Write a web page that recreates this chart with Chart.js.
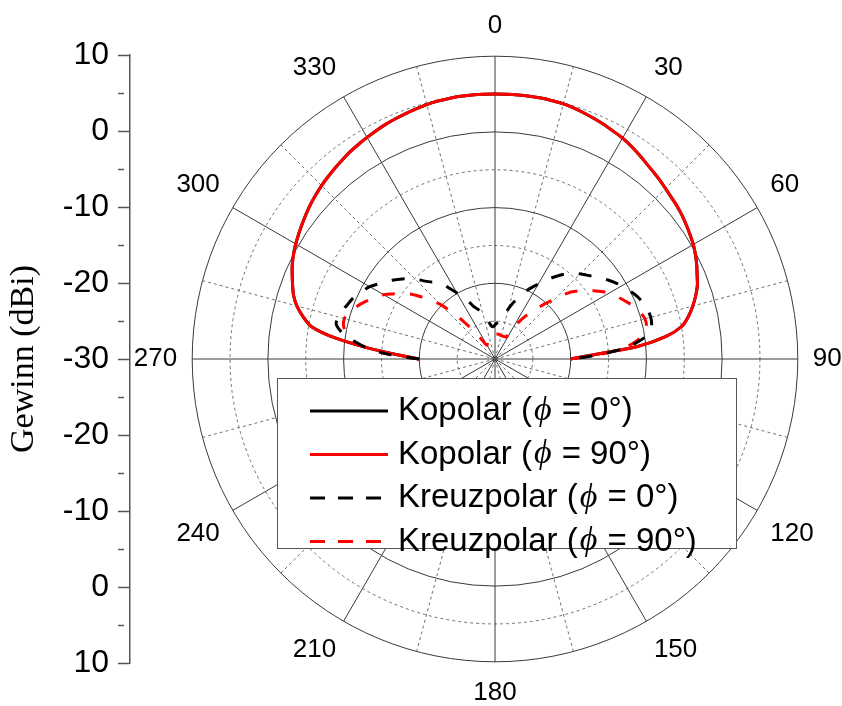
<!DOCTYPE html>
<html>
<head>
<meta charset="utf-8">
<script src="https://cdn.jsdelivr.net/npm/chart.js@4.4.0/dist/chart.umd.min.js"></script>
<style>
  html, body { margin: 0; padding: 0; background: #fff; overflow: hidden; }
  #stage { position: relative; width: 842px; height: 706px; overflow: hidden; background: #fff; }
  #axis { position: absolute; left: 0; top: 0; }
  #polar { position: absolute; left: 89px; top: 11px; }
</style>
</head>
<body>
<div id="stage">
  <canvas id="axis" width="136" height="706"></canvas>
  <canvas id="polar" width="812" height="698"></canvas>
</div>
<script>
// Elevation angle (degrees, 0 = boresight, clockwise positive), one row per 10 degrees
const angles = [
  -90, -87.5, -85, -82.5,
  -80, -77.5, -75, -72.5,
  -70, -67.5, -65, -62.5,
  -60, -57.5, -55, -52.5,
  -50, -47.5, -45, -42.5,
  -40, -37.5, -35, -32.5,
  -30, -27.5, -25, -22.5,
  -20, -17.5, -15, -12.5,
  -10, -7.5, -5, -2.5,
  0, 2.5, 5, 7.5,
  10, 12.5, 15, 17.5,
  20, 22.5, 25, 27.5,
  30, 32.5, 35, 37.5,
  40, 42.5, 45, 47.5,
  50, 52.5, 55, 57.5,
  60, 62.5, 65, 67.5,
  70, 72.5, 75, 77.5,
  80, 82.5, 85, 87.5,
  90
];

// Gain in dBi
const copolPhi0 = [
  -20, -17.1, -13.1, -8.7,
  -5.4, -4.0, -2.9, -2.1,
  -1.55, -1.0, -0.45, 0.0,
  0.4, 0.75, 1.1, 1.45,
  1.8, 2.1, 2.4, 2.65,
  2.9, 3.15, 3.4, 3.6,
  3.8, 4.0, 4.2, 4.35,
  4.5, 4.65, 4.8, 4.9,
  4.95, 5.0, 5.0, 5.0,
  5.0, 5.0, 5.0, 5.0,
  5.0, 4.95, 4.9, 4.75,
  4.55, 4.35, 4.15, 3.9,
  3.7, 3.4, 3.05, 2.7,
  2.4, 2.15, 1.85, 1.6,
  1.4, 1.15, 0.85, 0.55,
  0.25, -0.15, -0.6, -1.1,
  -1.55, -2.2, -2.95, -3.8,
  -4.9, -7.2, -11.1, -16.9,
  -20
];
const copolPhi90 = [
  -20, -17.1, -13.1, -8.7,
  -5.4, -4.0, -2.9, -2.1,
  -1.55, -1.0, -0.45, 0.0,
  0.4, 0.75, 1.1, 1.45,
  1.8, 2.1, 2.4, 2.65,
  2.9, 3.15, 3.4, 3.6,
  3.8, 4.0, 4.2, 4.35,
  4.5, 4.65, 4.8, 4.9,
  4.95, 5.0, 5.0, 5.0,
  5.0, 5.0, 5.0, 5.0,
  5.0, 4.95, 4.9, 4.75,
  4.55, 4.35, 4.15, 3.9,
  3.7, 3.4, 3.05, 2.7,
  2.4, 2.15, 1.85, 1.6,
  1.4, 1.15, 0.85, 0.55,
  0.25, -0.15, -0.6, -1.1,
  -1.55, -2.2, -2.95, -3.8,
  -4.9, -7.2, -11.1, -16.9,
  -20
];
const xpolPhi0 = [
  -20, -16.0, -13.0, -11.0,
  -9.4, -8.5, -8.6, -8.8,
  -9.2, -9.5, -9.9, -10.4,
  -10.9, -11.6, -12.3, -12.9,
  -13.6, -14.3, -15.0, -16.0,
  -16.7, -17.2, -17.9, -19.0,
  -19.9, -20.7, -21.5, -22.4,
  -22.9, -23.3, -23.8, -24.4,
  -24.9, -25.4, -25.7, -25.7,
  -25.5, -25.3, -25.1, -24.9,
  -24.6, -23.9, -23.1, -22.3,
  -21.6, -20.8, -20.0, -19.3,
  -18.6, -17.8, -16.9, -16.1,
  -15.3, -14.6, -14.1, -13.6,
  -13.0, -12.4, -11.8, -11.2,
  -10.7, -10.2, -9.7, -9.3,
  -9.0, -8.8, -8.7, -8.8,
  -9.1, -10.5, -12.6, -16.0,
  -20
];
const xpolPhi90 = [
  -20, -16.0, -13.0, -11.0,
  -10.0, -9.5, -9.4, -9.7,
  -10.3, -10.9, -11.6, -12.3,
  -13.0, -14.0, -15.0, -15.9,
  -17.2, -18.6, -19.8, -21.8,
  -23.5, -25.2, -26.6, -27.7,
  -27.9, -27.8, -27.6, -27.5,
  -27.4, -27.2, -27.0, -26.9,
  -26.7, -26.7, -26.7, -26.7,
  -26.7, -26.7, -26.7, -26.7,
  -26.7, -26.8, -26.8, -26.8,
  -26.8, -26.8, -26.8, -26.6,
  -25.4, -24.3, -23.2, -22.3,
  -21.2, -20.0, -18.8, -17.2,
  -16.1, -15.4, -14.3, -13.4,
  -12.6, -12.0, -11.4, -10.8,
  -10.2, -9.8, -9.5, -9.5,
  -9.9, -11.0, -12.8, -16.0,
  -20
];

// Radial range and the mirrored gain ruler on the left
const gainMin = -30;
const gainMax = 10;
const gainTicks = [10, 0, -10, -20, -30, -20, -10, 0, 10];

// Angular categories around the full circle (2.5 degree steps), labelled every 30 degrees
const polarLabels = Array.from({ length: 144 }, (_, i) => i * 2.5);

function toCircle(values) {
  const byAngle = new Map();
  angles.forEach((a, i) => byAngle.set((a + 360) % 360, values[i]));
  return polarLabels.map(a => (byAngle.has(a) ? byAngle.get(a) : null));
}

const SANS = '"Liberation Sans", Arial, sans-serif';
const SERIF = '"Liberation Serif", "Times New Roman", serif';

// Legend drawn as a framed box on top of the plot
const legendBox = {
  id: 'legendBox',
  afterDraw(chart, args, o) {
    const ctx = chart.ctx;
    ctx.save();
    ctx.fillStyle = '#fff';
    ctx.fillRect(o.x, o.y, o.w, o.h);
    ctx.strokeStyle = '#555';
    ctx.lineWidth = 1;
    ctx.setLineDash([]);
    ctx.strokeRect(o.x + 0.5, o.y + 0.5, o.w, o.h);
    chart.data.datasets.forEach((ds, i) => {
      const y = o.y + o.firstRow + i * o.rowGap;
      ctx.beginPath();
      ctx.setLineDash(ds.borderDash ? o.dash : []);
      ctx.strokeStyle = ds.borderColor;
      ctx.lineWidth = 3;
      ctx.moveTo(o.x + o.lineStart, y);
      ctx.lineTo(o.x + o.lineEnd, y);
      ctx.stroke();
      ctx.setLineDash([]);
      ctx.fillStyle = '#000';
      ctx.textBaseline = 'middle';
      ctx.textAlign = 'left';
      const parts = ds.label.split('ϕ');
      let x = o.x + o.textStart;
      const normal = o.size + 'px ' + SANS;
      const italic = 'italic ' + o.phiSize + 'px ' + SERIF;
      ctx.font = normal;
      ctx.fillText(parts[0], x, y);
      x += ctx.measureText(parts[0]).width + 2;
      ctx.font = italic;
      ctx.fillText('ϕ', x, y);
      x += ctx.measureText('ϕ').width + 1;
      ctx.font = normal;
      ctx.fillText(parts[1], x, y);
    });
    ctx.restore();
  }
};

// Left gain ruler
new Chart(document.getElementById('axis'), {
  type: 'line',
  data: { labels: [], datasets: [] },
  options: {
    responsive: false,
    animation: false,
    events: [],
    layout: { padding: { top: 55, bottom: 43, left: 0, right: 0 } },
    plugins: { legend: { display: false }, tooltip: { enabled: false } },
    scales: {
      x: { display: false },
      y: {
        type: 'linear',
        position: 'left',
        min: -40,
        max: 40,
        afterFit: s => { s.width = 130; },
        ticks: {
          stepSize: 5,
          autoSkip: false,
          padding: 9,
          color: '#000',
          font: { family: SANS, size: 32 },
          callback: (v, i) => (i % 2 === 0 ? String(gainTicks[i / 2]) : '')
        },
        grid: {
          drawOnChartArea: false,
          drawTicks: true,
          tickLength: 12,
          tickWidth: 1.5,
          tickColor: '#555',
          tickBorderDash: c => (c.index % 2 ? [6, 40] : [])
        },
        border: { display: true, color: '#555', width: 1.5 },
        title: {
          display: true,
          text: 'Gewinn (dBi)',
          color: '#000',
          font: { family: SERIF, size: 34 },
          padding: { top: 4, bottom: 0 }
        }
      }
    }
  }
});

const common = { fill: false, pointRadius: 0, borderWidth: 3, tension: 0.3, spanGaps: false, backgroundColor: 'rgba(0,0,0,0)' };

new Chart(document.getElementById('polar'), {
  type: 'radar',
  data: {
    labels: polarLabels,
    datasets: [
      Object.assign({ label: 'Kopolar (ϕ = 0°)', data: toCircle(copolPhi0), borderColor: '#000000', order: 4 }, common),
      Object.assign({ label: 'Kopolar (ϕ = 90°)', data: toCircle(copolPhi90), borderColor: '#ff0000', order: 3 }, common),
      Object.assign({ label: 'Kreuzpolar (ϕ = 0°)', data: toCircle(xpolPhi0), borderColor: '#000000', borderDash: [13, 15], order: 1 }, common),
      Object.assign({ label: 'Kreuzpolar (ϕ = 90°)', data: toCircle(xpolPhi90), borderColor: '#ff0000', borderDash: [13, 15], order: 2 }, common)
    ]
  },
  options: {
    responsive: false,
    animation: false,
    events: [],
    layout: { padding: 0 },
    plugins: {
      legend: { display: false },
      tooltip: { enabled: false },
      legendBox: { x: 188, y: 367, w: 459, h: 170, firstRow: 33, rowGap: 43.5, lineStart: 33, lineEnd: 111, textStart: 121, size: 33, phiSize: 34, dash: [15, 13] }
    },
    scales: {
      r: {
        min: gainMin,
        max: gainMax,
        startAngle: 0,
        ticks: { display: false, stepSize: 5 },
        grid: {
          circular: true,
          color: c => (c.tick.value % 10 === 0 ? '#3a3a3a' : '#707070'),
          lineWidth: 1
        },
        border: { dash: c => (c.tick && c.tick.value % 10 !== 0 ? [3, 3] : []) },
        angleLines: {
          display: true,
          color: c => (polarLabels[c.index] % 30 === 0 ? '#3a3a3a' : '#707070'),
          lineWidth: c => (polarLabels[c.index] % 15 === 0 ? 1 : 0),
          borderDash: c => (polarLabels[c.index] % 30 === 0 ? [] : [3, 3])
        },
        pointLabels: {
          display: true,
          padding: 15,
          color: '#000',
          font: { family: SANS, size: 26 },
          callback: l => (l % 30 === 0 ? String(l) : '')
        }
      }
    }
  },
  plugins: [legendBox]
});
</script>
</body>
</html>
